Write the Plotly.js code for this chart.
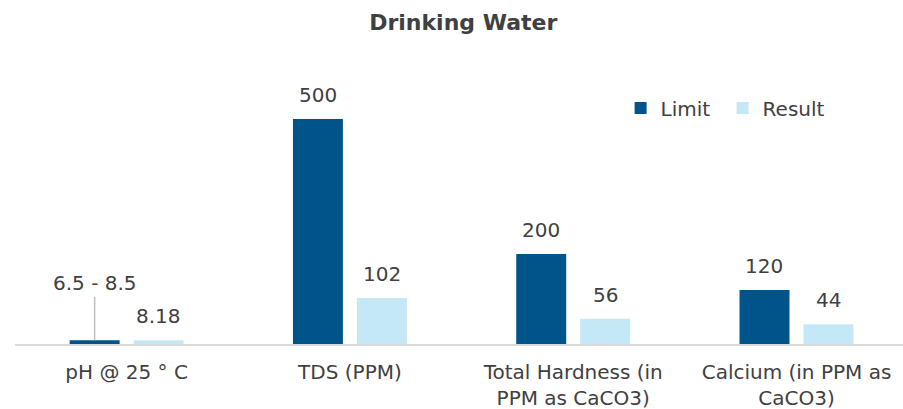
<!DOCTYPE html>
<html>
<head>
<meta charset="utf-8">
<script src="https://cdn.plot.ly/plotly-3.0.1.min.js"></script>
<style>html,body{margin:0;padding:0;background:#fff;}</style>
</head>
<body>
<div id="chart" style="width:903px;height:409px;"></div>
<script>
const categories = ["pH @ 25 ° C", "TDS (PPM)", "Total Hardness (in<br>PPM as CaCO3)", "Calcium (in PPM as<br>CaCO3)"];
const limitValues = [8.5, 500, 200, 120];
const limitLabels = ["6.5 - 8.5", "500", "200", "120"];
const resultValues = [8.18, 102, 56, 44];
const resultLabels = ["8.18", "102", "56", "44"];

const limitColor = "#00548a";
const resultColor = "#c5e8f6";
const textColor = "#404040";
const fontFamily = "DejaVu Sans, sans-serif";

const traces = [
  {type: "bar", name: "Limit", x: categories, y: limitValues, marker: {color: limitColor}, hoverinfo: "skip"},
  {type: "bar", name: "Result", x: categories, y: resultValues, marker: {color: resultColor}, hoverinfo: "skip"}
];

const annotations = [];
limitValues.forEach((v, i) => {
  const isRange = limitLabels[i].indexOf("-") >= 0;
  const a = {x: categories[i], y: v, xref: "x", yref: "y", text: limitLabels[i], xshift: -32,
    font: {size: 20, color: textColor, family: fontFamily}};
  if (isRange) {
    Object.assign(a, {showarrow: true, arrowhead: 0, arrowwidth: 1.5, arrowcolor: "#bfbfbf", ax: 0, ay: -57, standoff: 0});
  } else {
    Object.assign(a, {showarrow: false, yanchor: "bottom", yshift: 10});
  }
  annotations.push(a);
});
resultValues.forEach((v, i) => {
  annotations.push({x: categories[i], y: v, xref: "x", yref: "y", text: resultLabels[i], xshift: 32,
    showarrow: false, yanchor: "bottom", yshift: 10,
    font: {size: 20, color: textColor, family: fontFamily}});
});

const layout = {
  width: 903, height: 409,
  margin: {l: 15, r: 0, t: 60, b: 65},
  paper_bgcolor: "#ffffff", plot_bgcolor: "#ffffff",
  font: {family: fontFamily, color: textColor, size: 20},
  title: {text: "<b>Drinking Water</b>", x: 0.513, xref: "container", xanchor: "center",
    y: 0.945, yref: "container", yanchor: "middle",
    font: {size: 22, color: textColor, family: fontFamily}},
  barmode: "group", bargap: 0.427, bargroupgap: 0.219,
  showlegend: true,
  legend: {orientation: "h", xref: "paper", yref: "paper", x: 0.682, y: 0.831,
    xanchor: "left", yanchor: "middle", entrywidth: 57, font: {size: 20, color: textColor, family: fontFamily},
    bgcolor: "rgba(0,0,0,0)"},
  xaxis: {type: "category", range: [-0.5, 3.477], showline: true, linecolor: "#d9d9d9", linewidth: 2,
    ticks: "", showgrid: false, zeroline: false, ticklabelstandoff: 9,
    tickfont: {size: 20, color: textColor, family: fontFamily}},
  yaxis: {range: [0, 631], visible: false, showgrid: false, zeroline: false},
  annotations: annotations
};

Plotly.newPlot("chart", traces, layout, {displayModeBar: false, staticPlot: true});
</script>
</body>
</html>
